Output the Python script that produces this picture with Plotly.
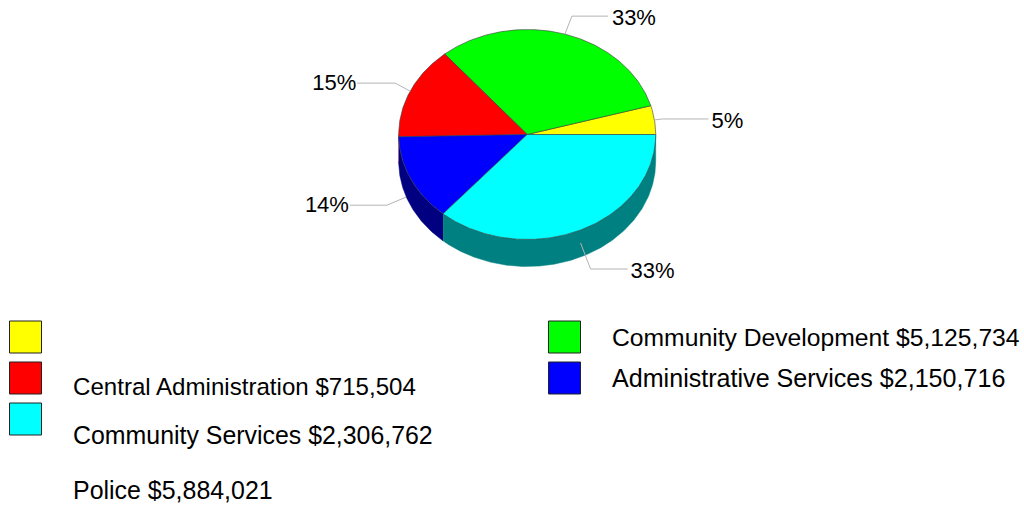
import math
import plotly.graph_objects as go

# Budget by department, in the order the slices run counter-clockwise from due east
departments = ["Central Administration", "Community Development", "Community Services",
               "Administrative Services", "Police"]
amounts = [715504, 5125734, 2306762, 2150716, 5884021]
percent_labels = ["5%", "33%", "15%", "14%", "33%"]
top_colors = ["#ffff00", "#00ff00", "#ff0000", "#0000ff", "#00ffff"]
wall_colors = ["#808000", "#008000", "#800000", "#000080", "#008080"]

# Tilted pie geometry, in pixels
CX, CY, RX, RY, DEPTH = 527.2, 134.5, 128.5, 105.0, 27.0
FONT = "Liberation Sans, Arial, sans-serif"
PERCENT_SIZE = 22

# Per slice leader line: start nudge, drop along the wall, elbow offset, run length,
# label distance past the run, label height relative to the run
leaders = [
    dict(nudge=0, drop=0, elbow=(8, -1), run=46, label=19, rise=4),
    dict(nudge=0, drop=0, elbow=(7, -18), run=36, label=26, rise=3),
    dict(nudge=0, drop=0, elbow=(-15, -8), run=38, label=23, rise=1.5),
    dict(nudge=-5, drop=18, elbow=(-19, 8), run=37, label=23, rise=1),
    dict(nudge=0, drop=13, elbow=(10, 26), run=37, label=25, rise=3),
]

# Legend rows: (slice index, swatch centre in pixels)
swatches = [(0, 25.5, 337), (2, 25.5, 378), (4, 25.5, 419), (1, 564.5, 337), (3, 564.5, 378)]
# Captions: (slice index, text anchor in pixels, font size)
legend_text = [(0, 73, 389, 24.1), (2, 73, 438, 24.9), (4, 73, 493, 24.95),
               (1, 612, 340, 24.7), (3, 612, 381, 25.1)]


def point(deg, drop=0.0):
    a = math.radians(deg)
    return CX + RX * math.cos(a), CY - RY * math.sin(a) + drop


def arc(start, end):
    n = max(2, int(abs(end - start)) * 2)
    pts = [point(start + (end - start) * i / n) for i in range(n + 1)]
    return [p[0] for p in pts], [p[1] for p in pts]


total = sum(amounts)
edges = [0.0]
for v in amounts:
    edges.append(edges[-1] + 360.0 * v / total)

fig = go.Figure()


def polygon(xs, ys, fill, line_color="#3a3a3a", width=0.6):
    fig.add_trace(go.Scatter(x=xs, y=ys, mode="lines", fill="toself", fillcolor=fill,
                             line=dict(color=line_color, width=width),
                             hoverinfo="skip", showlegend=False))


# Side wall: only the part of each slice that faces the viewer
for i in range(len(amounts)):
    lo, hi = max(edges[i], 180.0), min(edges[i + 1], 360.0)
    if hi <= lo:
        continue
    xs, ys = arc(lo, hi)
    polygon(xs + xs[::-1], ys + [y + DEPTH for y in ys[::-1]], wall_colors[i],
            line_color=wall_colors[i], width=0.5)

# Top face
for i in range(len(amounts)):
    xs, ys = arc(edges[i], edges[i + 1])
    polygon([CX] + xs + [CX], [CY] + ys + [CY], top_colors[i])

# Leader lines and percentage labels, anchored at each slice's middle angle
for i, lead in enumerate(leaders):
    mid = (edges[i] + edges[i + 1]) / 2
    x0, y0 = point(mid, lead["drop"])
    x0 += lead["nudge"]
    ex, ey = x0 + lead["elbow"][0], y0 + lead["elbow"][1]
    side = 1 if math.cos(math.radians(mid)) > 0 else -1
    x2 = ex + side * lead["run"]
    fig.add_trace(go.Scatter(x=[x0, ex, x2], y=[y0, ey, ey], mode="lines",
                             line=dict(color="#b4b4b4", width=1),
                             hoverinfo="skip", showlegend=False))
    fig.add_trace(go.Scatter(x=[x2 + side * lead["label"]], y=[ey + lead["rise"]], mode="text",
                             text=[percent_labels[i]], textposition="middle center",
                             textfont=dict(family=FONT, size=PERCENT_SIZE, color="#000000"),
                             hoverinfo="skip", showlegend=False))

# Legend swatches and captions
for i, x, y in swatches:
    fig.add_trace(go.Scatter(x=[x], y=[y], mode="markers",
                             marker=dict(symbol="square", size=32, color=top_colors[i],
                                         line=dict(color="#222222", width=1)),
                             hoverinfo="skip", showlegend=False))
for i, x, y, size in legend_text:
    fig.add_trace(go.Scatter(x=[x], y=[y], mode="text",
                             text=[f"{departments[i]} ${amounts[i]:,}"],
                             textposition="middle right",
                             textfont=dict(family=FONT, size=size, color="#000000"),
                             hoverinfo="skip", showlegend=False))

fig.update_layout(
    width=1024, height=508, margin=dict(l=0, r=0, t=0, b=0),
    paper_bgcolor="#ffffff", plot_bgcolor="#ffffff", showlegend=False,
    xaxis=dict(range=[0, 1024], visible=False, fixedrange=True),
    yaxis=dict(range=[508, 0], visible=False, fixedrange=True),
)
fig.write_html("out.html", config={"displayModeBar": False})
